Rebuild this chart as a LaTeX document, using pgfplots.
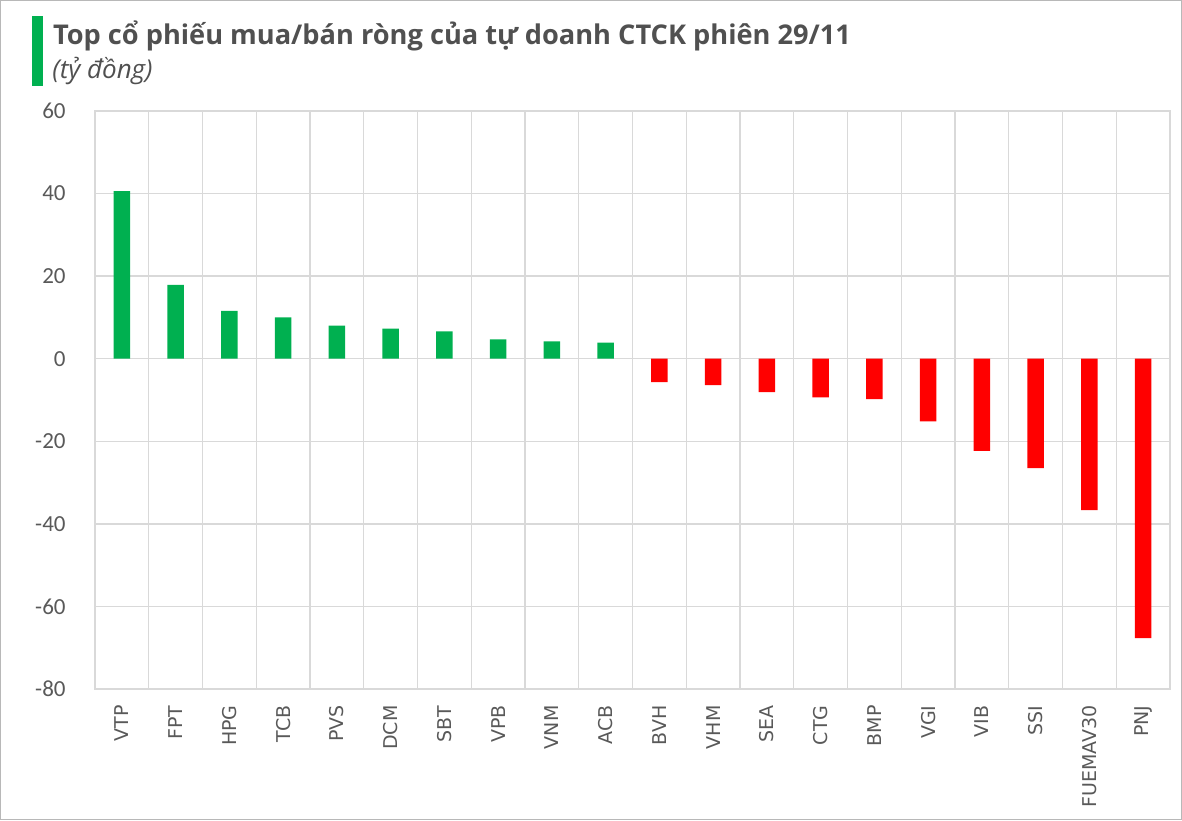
\documentclass[border=0pt]{standalone}
\usepackage{fontspec}
\setmainfont{Open Sans}
\newfontfamily\carlito{Carlito}
\newfontfamily\dejavu{DejaVu Sans}
\usepackage{pgfplots}
\pgfplotsset{compat=1.18}
\definecolor{posg}{HTML}{00B050}
\definecolor{negr}{HTML}{FF0000}
\definecolor{gridc}{HTML}{D9D9D9}
\definecolor{txt}{HTML}{505050}
\definecolor{tickc}{HTML}{595959}
\begin{document}
\begin{tikzpicture}[x=1pt,y=1pt]
\path[use as bounding box] (0,0) rectangle (591,410);
\draw[gridc!85!black, line width=0.6pt] (0.3,0.3) rectangle (590.7,409.7);
\fill[posg] (16,367) rectangle (21.3,402);
\node[anchor=base west, font=\bfseries\fontsize{13.6}{15}\selectfont, text=txt, inner sep=0pt] at (26.3,387.5) {Top cổ phiếu mua/bán ròng của tự doanh CTCK phiên 29/11};
\node[anchor=base west, font=\itshape\fontsize{13}{15}\selectfont, text=txt, inner sep=0pt] at (26,370.5) {(tỷ đồng)};
\begin{axis}[
  at={(47.5pt,65.5pt)}, anchor=south west,
  scale only axis, width=537.5pt, height=289pt,
  xmin=-0.5, xmax=19.5, ymin=-80, ymax=60,
  ytick={-80,-60,...,60},
  xtick={0,...,19},
  xticklabels={VTP,FPT,HPG,TCB,PVS,DCM,SBT,VPB,VNM,ACB,BVH,VHM,SEA,CTG,BMP,VGI,VIB,SSI,FUEMAV30,PNJ},
  minor xtick={-0.5,0.5,...,19.5},
  xminorgrids=true, ymajorgrids=true, xmajorgrids=false,
  grid style={gridc, line width=0.7pt},
  minor grid style={gridc, line width=0.7pt},
  axis line style={gridc, line width=0.7pt},
  major tick length=0pt, minor tick length=0pt,
  xticklabel style={rotate=90, anchor=east, inner sep=0pt, font=\dejavu\fontsize{9.5}{10}\selectfont, text=tickc},
  xticklabel shift=8pt,
  yticklabel style={anchor=east, inner sep=0pt, font=\carlito\fontsize{11.5}{12}\selectfont, text=tickc},
  yticklabel shift=14.5pt,
  /pgf/number format/assume math mode=true,
  ybar, bar width=8.25pt, bar shift=0pt,
  clip=false,
]
\addplot[fill=posg, draw=none] coordinates {
 (0,40.6) (1,17.9) (2,11.6) (3,10.0) (4,8.0) (5,7.3) (6,6.6) (7,4.7) (8,4.2) (9,3.9)
};
\addplot[fill=negr, draw=none] coordinates {
 (10,-5.7) (11,-6.4) (12,-8.1) (13,-9.35) (14,-9.8) (15,-15.2) (16,-22.3) (17,-26.5) (18,-36.7) (19,-67.7)
};
\end{axis}
\end{tikzpicture}
\end{document}
